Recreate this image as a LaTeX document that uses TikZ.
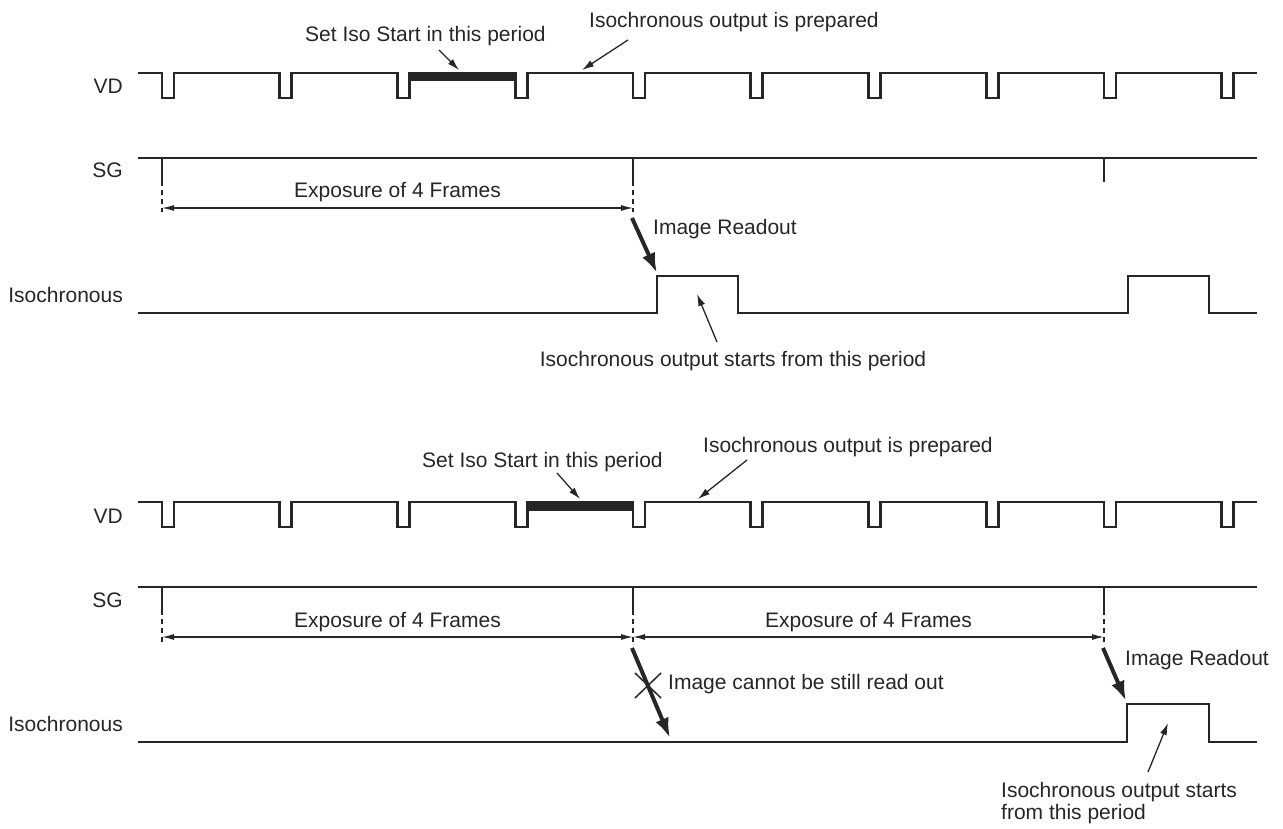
\documentclass[tikz,border=0pt]{standalone}
\usepackage{fontspec}
\setmainfont{Liberation Sans}
\usetikzlibrary{arrows.meta,calc}
\begin{document}
\begin{tikzpicture}[x=1pt,y=-1pt,
  wave/.style={line width=2.6pt, line join=miter, draw=black!85},
  lbl/.style={font=\fontsize{21}{22}\selectfont, inner sep=0pt, text=black!85},
  dim/.style={line width=1.2pt, draw=black!85, {Latex[length=12pt,width=6pt]}-{Latex[length=12pt,width=6pt]}},
  ptr/.style={line width=1.3pt, draw=black!85, -{Latex[length=12pt,width=7pt]}},
  bigarrow/.style={line width=4pt, draw=black!85, -{Latex[length=20pt,width=14pt]}},
  dtick/.style={line width=1.2pt, draw=black!85, dash pattern=on 5pt off 4pt},
  xmark/.style={line width=1.5pt, draw=black!85},
  barfill/.style={fill=black!85},
]
\useasboundingbox (0,0) rectangle (1283,829);

% ================= TOP DIAGRAM =================
\node[lbl, anchor=base east] (vdT) at (123,94) {VD};
\node[lbl, anchor=base east] (sgT) at (123,178) {SG};
\node[lbl, anchor=base east] (isoT) at (123,302) {Isochronous};

% VD waveform
\draw[wave] (138,73) \foreach \k in {0,...,9} { -- ({162+117.75*\k},73) -- ++(0,25) -- ++(12,0) -- ++(0,-25) } -- (1257,73);
\fill[barfill] (409,71.7) rectangle (516.5,81.5);

% SG waveform
\draw[wave] (138,158) -- (1257,158);
\draw[wave] (162,158) -- (162,181);
\draw[wave] (633,158) -- (633,181);
\draw[wave] (1104,158) -- (1104,182);
\draw[dtick] (162,181) -- (162,212);
\draw[dtick] (633,181) -- (633,212);
\coordinate (e1a) at (162,208);
\coordinate (e1b) at (633,208);
\draw[dim] (e1a) -- (e1b);
\node[lbl, anchor=base] (exp1) at (397.5,198) {Exposure of 4 Frames};

% Image readout
\coordinate (rdS) at (632,218);
\coordinate (rdE) at (657,273);
\draw[bigarrow] (rdS) -- (rdE);
\node[lbl, anchor=base west] (rdL) at (653,235) {Image Readout};

% Isochronous waveform
\draw[wave] (138,313) -- (657,313) -- (657,276) -- (738,276) -- (738,313) -- (1128,313) -- (1128,276) -- (1209,276) -- (1209,313) -- (1257,313);

% annotations
\node[lbl, anchor=base] (startT) at (733,366) {Isochronous output starts from this period};
\coordinate (sTa) at (717,342);
\coordinate (sTb) at (697,294);
\draw[ptr] (sTa) -- (sTb);

\node[lbl, anchor=base west] (setT) at (305,42) {Set Iso Start in this period};
\coordinate (setTa) at (439,50);
\coordinate (setTb) at (459,70);
\draw[ptr] (setTa) -- (setTb);

\node[lbl, anchor=base west] (prepT) at (589,28) {Isochronous output is prepared};
\coordinate (prepTa) at (628,40);
\coordinate (prepTb) at (582,70);
\draw[ptr] (prepTa) -- (prepTb);

% ================= BOTTOM DIAGRAM =================
\node[lbl, anchor=base east] (vdB) at (123,523) {VD};
\node[lbl, anchor=base east] (sgB) at (123,607) {SG};
\node[lbl, anchor=base east] (isoB) at (123,731) {Isochronous};

\draw[wave] (138,502) \foreach \k in {0,...,9} { -- ({162+117.75*\k},502) -- ++(0,25) -- ++(12,0) -- ++(0,-25) } -- (1257,502);
\fill[barfill] (527,500.7) rectangle (634.3,510.5);

\draw[wave] (138,587) -- (1257,587);
\draw[wave] (162,587) -- (162,610);
\draw[wave] (633,587) -- (633,610);
\draw[wave] (1104,587) -- (1104,610);
\draw[dtick] (162,610) -- (162,642);
\draw[dtick] (633,610) -- (633,642);
\draw[dtick] (1104,610) -- (1104,642);
\coordinate (e2a) at (162,637);
\coordinate (e2b) at (633,637);
\coordinate (e2c) at (1104,637);
\draw[dim] (e2a) -- (e2b);
\draw[dim] (e2b) -- (e2c);
\node[lbl, anchor=base] (exp2) at (397.5,627) {Exposure of 4 Frames};
\node[lbl, anchor=base] (exp3) at (868.5,627) {Exposure of 4 Frames};

% crossed arrow
\coordinate (crS) at (632,648);
\coordinate (crE) at (670,738);
\draw[bigarrow] (crS) -- (crE);
\coordinate (xc) at (648,686);
\draw[xmark] ($(xc)+(-13,-13)$) -- ($(xc)+(13,12)$);
\draw[xmark] ($(xc)+(-13,12)$) -- ($(xc)+(13,-13)$);
\node[lbl, anchor=base west] (cantL) at (668,689) {Image cannot be still read out};

% Image readout bottom
\coordinate (rd2S) at (1103,648);
\coordinate (rd2E) at (1126,701);
\draw[bigarrow] (rd2S) -- (rd2E);
\node[lbl, anchor=base west] (rd2L) at (1125,665) {Image Readout};

\draw[wave] (138,742) -- (1127,742) -- (1127,704) -- (1209,704) -- (1209,742) -- (1257,742);

\node[lbl, anchor=base west, align=left] (startB) at (1001,819) {Isochronous output starts\\from this period};
\coordinate (sBa) at (1148,772);
\coordinate (sBb) at (1168,723);
\draw[ptr] (sBa) -- (sBb);

\node[lbl, anchor=base west] (setB) at (422,467) {Set Iso Start in this period};
\coordinate (setBa) at (557,473);
\coordinate (setBb) at (580,499);
\draw[ptr] (setBa) -- (setBb);

\node[lbl, anchor=base west] (prepB) at (703,452) {Isochronous output is prepared};
\coordinate (prepBa) at (747,460);
\coordinate (prepBb) at (698,499);
\draw[ptr] (prepBa) -- (prepBb);
\end{tikzpicture}
\end{document}
